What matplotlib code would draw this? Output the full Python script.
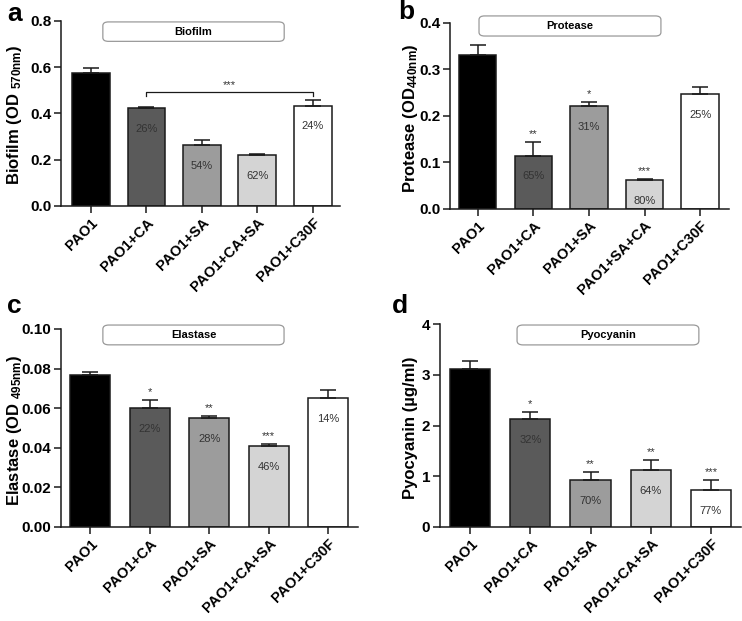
import matplotlib
matplotlib.use('Agg')
import matplotlib.pyplot as plt
from matplotlib.patches import FancyBboxPatch
import numpy as np

plt.rcParams['font.family'] = ['Liberation Sans', 'DejaVu Sans']
plt.rcParams['font.weight'] = 'bold'
plt.rcParams['mathtext.fontset'] = 'custom'
plt.rcParams['mathtext.rm'] = 'Liberation Sans'
plt.rcParams['mathtext.bf'] = 'Liberation Sans:bold'
plt.rcParams['mathtext.default'] = 'rm'

# ---------------- data ----------------
colors = ['#000000', '#5a5a5a', '#9c9c9c', '#d4d4d4', '#ffffff']

biofilm_cats = ['PAO1', 'PAO1+CA', 'PAO1+SA', 'PAO1+CA+SA', 'PAO1+C30F']
biofilm_vals = [0.576, 0.425, 0.265, 0.221, 0.434]
biofilm_err = [0.020, 0.004, 0.019, 0.004, 0.023]
biofilm_pct = ['', '26%', '54%', '62%', '24%']
biofilm_sig = ['', '', '', '', '']
biofilm_ticks = [0.0, 0.2, 0.4, 0.6, 0.8]

protease_cats = ['PAO1', 'PAO1+CA', 'PAO1+SA', 'PAO1+SA+CA', 'PAO1+C30F']
protease_vals = [0.332, 0.115, 0.221, 0.063, 0.248]
protease_err = [0.020, 0.030, 0.009, 0.001, 0.015]
protease_pct = ['', '65%', '31%', '80%', '25%']
protease_sig = ['', '**', '*', '***', '']
protease_ticks = [0.0, 0.1, 0.2, 0.3, 0.4]

elastase_cats = ['PAO1', 'PAO1+CA', 'PAO1+SA', 'PAO1+CA+SA', 'PAO1+C30F']
elastase_vals = [0.0766, 0.0602, 0.0549, 0.0410, 0.0653]
elastase_err = [0.0015, 0.0038, 0.0010, 0.0010, 0.0037]
elastase_pct = ['', '22%', '28%', '46%', '14%']
elastase_sig = ['', '*', '**', '***', '']
elastase_ticks = [0.00, 0.02, 0.04, 0.06, 0.08, 0.10]

pyo_cats = ['PAO1', 'PAO1+CA', 'PAO1+SA', 'PAO1+CA+SA', 'PAO1+C30F']
pyo_vals = [3.11, 2.12, 0.93, 1.12, 0.72]
pyo_err = [0.17, 0.14, 0.15, 0.21, 0.20]
pyo_pct = ['', '32%', '70%', '64%', '77%']
pyo_sig = ['', '*', '**', '**', '***']
pyo_ticks = [0, 1, 2, 3, 4]

W, H = 742, 621
fig = plt.figure(figsize=(W / 100, H / 100), dpi=100)


def px_axes(l, r, t, b):
    return fig.add_axes([l / W, 1 - b / H, (r - l) / W, (b - t) / H]), (l, r, t, b)


def panel(axp, cats, vals, err, pct, sig, ticks, ylabel, ylx, title, box,
          fmt, xpad=(0.52, 0.5), width=0.68):
    ax, (l, r, t, b) = axp
    x = np.arange(len(cats))
    ax.bar(x, vals, width=width, color=colors, edgecolor='#1a1a1a',
           linewidth=1.1, zorder=2)
    ax.errorbar(x, vals, yerr=[np.zeros(len(vals)), err], fmt='none',
                ecolor='#1a1a1a', elinewidth=1.1, capsize=5.5, capthick=1.1,
                zorder=3)
    ax.set_xlim(-xpad[0], len(cats) - 1 + xpad[1])
    ax.set_ylim(ticks[0], ticks[-1])
    ax.set_yticks(ticks)
    ax.set_yticklabels([fmt.format(tk) for tk in ticks], fontsize=11,
                       fontweight='bold')
    ax.set_xticks(x)
    ax.set_xticklabels(cats, rotation=45, ha='right', rotation_mode='anchor',
                       fontsize=10.5, fontweight='bold')
    for s in ['top', 'right']:
        ax.spines[s].set_visible(False)
    for s in ['left', 'bottom']:
        ax.spines[s].set_linewidth(1.1)
        ax.spines[s].set_color('#1a1a1a')
    ax.tick_params(axis='both', direction='out', length=5, width=1.1,
                   color='#1a1a1a', pad=2)
    ax.set_ylabel(ylabel, fontsize=12, fontweight='bold')
    ax.yaxis.set_label_coords((ylx - l) / (r - l), 0.49)
    for i in range(len(cats)):
        if pct[i]:
            ax.annotate(pct[i], (x[i], vals[i]), xytext=(0, -15),
                        textcoords='offset points', ha='center', va='center',
                        fontsize=8, fontweight='normal', color='#333333',
                        zorder=4)
        if sig[i]:
            ax.annotate(sig[i], (x[i], vals[i] + err[i]), xytext=(0, 2),
                        textcoords='offset points', ha='center', va='bottom',
                        fontsize=8, fontweight='normal', color='#333333')
    bx0, bx1, by0, by1 = box
    p = FancyBboxPatch((bx0, by0), bx1 - bx0, by1 - by0,
                       boxstyle='round,pad=0,rounding_size=0.02',
                       transform=ax.transAxes, facecolor='white',
                       edgecolor='#9a9a9a', linewidth=0.9, clip_on=False,
                       zorder=5)
    ax.add_patch(p)
    ax.text((bx0 + bx1) / 2, (by0 + by1) / 2, title, transform=ax.transAxes,
            ha='center', va='center', fontsize=8, fontweight='bold',
            zorder=6)
    return ax


# panel a
axa = panel(px_axes(61, 340, 21, 206), biofilm_cats, biofilm_vals, biofilm_err,
            biofilm_pct, biofilm_sig, biofilm_ticks,
            'Biofilm (OD $_{570nm}$)', 24, 'Biofilm',
            (0.15, 0.80, 0.89, 0.995), '{:.1f}', xpad=(0.54, 0.49))
# bracket
axa.plot([1, 1, 4, 4], [0.474, 0.494, 0.494, 0.474], color='#1a1a1a', lw=0.9)
axa.text(2.5, 0.50, '***', ha='center', va='bottom', fontsize=8,
         fontweight='normal', color='#333333')

# panel b
panel(px_axes(450, 729, 23, 209), protease_cats, protease_vals, protease_err,
      protease_pct, protease_sig, protease_ticks,
      r'Protease (OD$_{\mathbf{440nm}}$)', 420, 'Protease',
      (0.104, 0.756, 0.93, 1.038), '{:.1f}', xpad=(0.5, 0.52), width=0.67)

# panel c
panel(px_axes(61, 358, 329, 527), elastase_cats, elastase_vals, elastase_err,
      elastase_pct, elastase_sig, elastase_ticks,
      'Elastase (OD $_{495nm}$)', 24, 'Elastase',
      (0.141, 0.751, 0.92, 1.02), '{:.2f}', xpad=(0.49, 0.5), width=0.67)

# panel d
panel(px_axes(440, 741, 324, 527), pyo_cats, pyo_vals, pyo_err, pyo_pct,
      pyo_sig, pyo_ticks, 'Pyocyanin (µg/ml)', 418, 'Pyocyanin',
      (0.256, 0.860, 0.897, 0.995), '{:.0f}', xpad=(0.5, 0.5), width=0.67)

for lbl, xx, yy in [('a', 7, 2), ('b', 398, 0), ('c', 7, 294), ('d', 392, 294)]:
    fig.text(xx / W, 1 - yy / H, lbl, fontsize=19, fontweight='bold',
             ha='left', va='top')

fig.savefig('out.png', dpi=100)
